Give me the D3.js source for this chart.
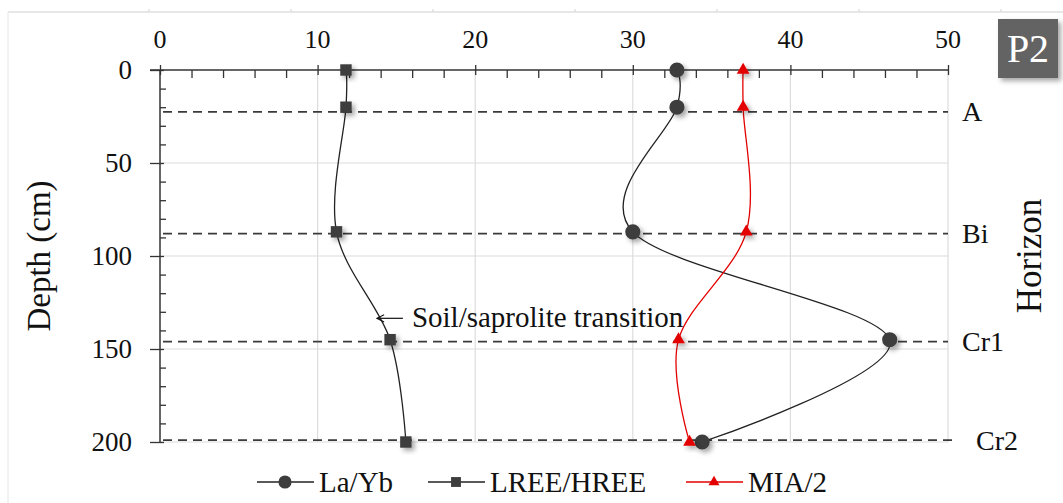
<!DOCTYPE html>
<html>
<head>
	<meta charset="UTF-8">
	<title>P2 depth profile</title>
	<style>
html, body {
	margin:0;padding:0;background:#fff;
}
text {
	font-family: "Liberation Serif", "Times New Roman", serif;
	fill: #111;
}
	</style>
	<script src="https://cdnjs.cloudflare.com/ajax/libs/d3/7.8.5/d3.min.js"></script>
</head>
<body>
<script>
// sample depths (cm) and the three profiles
const depths = [0, 20, 87, 145, 200];
const laYb = [32.8, 32.8, 30.0, 46.3, 34.4];
const lreeHree = [11.8, 11.8, 11.2, 14.6, 15.6];
const mia2 = [37.0, 37.0, 37.2, 32.9, 33.6];

const horizonNames = ['A', 'Bi', 'Cr1', 'Cr2'];
const horizonDepths = [22.5, 88, 146, 199];

const xTicks = [0, 10, 20, 30, 40, 50];
const depthTicks = [0, 50, 100, 150, 200];
const seriesNames = ['La/Yb', 'LREE/HREE', 'MIA/2'];

// annotation arrow tip (value, depth)
const transition = {label: 'Soil/saprolite transition', value: 13.7, depth: 133.5};

const W = 1063, H = 503;

const svg = d3.select(document.body).append('svg').attr('width', W).attr('height', H);

const defs = svg.append('defs');
defs.append('filter').attr('id', 'shadow')
	.attr('x', '-60%').attr('y', '-60%').attr('width', '220%').attr('height', '220%')
	.append('feDropShadow')
	.attr('dx', 3).attr('dy', 3).attr('stdDeviation', 2.5)
	.attr('flood-color', '#000').attr('flood-opacity', 0.35);
defs.append('marker').attr('id', 'openArrow')
	.attr('viewBox', '0 0 10 10').attr('refX', 9).attr('refY', 5)
	.attr('markerWidth', 9).attr('markerHeight', 9).attr('markerUnits', 'userSpaceOnUse')
	.attr('orient', 'auto')
	.append('path').attr('d', 'M1 1 9 5 1 9').attr('fill', 'none').attr('stroke', '#111').attr('stroke-width', 1.2);

// page frame (light ruler lines)
svg.append('line').attr('x1', 8).attr('x2', W).attr('y1', 12).attr('y2', 12).attr('stroke', '#cfcfcf').attr('stroke-width', 1.2);
svg.append('line').attr('x1', 8).attr('x2', 8).attr('y1', 12).attr('y2', H).attr('stroke', '#e6e6e6').attr('stroke-width', 1);
svg.selectAll('.ruler').data(d3.range(149, W, 142)).enter().append('line')
	.attr('x1', d => d).attr('x2', d => d).attr('y1', 9).attr('y2', 12).attr('stroke', '#d5d5d5');

const x = d3.scaleLinear().domain([0, 50]).range([160, 948]);
const y = d3.scaleLinear().domain([0, 200]).range([70, 442]);

// grid
const grid = svg.append('g');
grid.selectAll('.gx').data(xTicks.slice(1)).enter().append('line')
	.attr('x1', d => x(d)).attr('x2', d => x(d)).attr('y1', y(0)).attr('y2', y(200))
	.attr('stroke', '#dcdcdc').attr('stroke-width', 1.2);
grid.selectAll('.gy').data(depthTicks.slice(1)).enter().append('line')
	.attr('x1', x(0)).attr('x2', x(50)).attr('y1', d => y(d)).attr('y2', d => y(d))
	.attr('stroke', '#dcdcdc').attr('stroke-width', 1.2);

// horizon boundaries
const hz = svg.append('g');
horizonDepths.forEach((d, i) => {
	const last = i === horizonDepths.length - 1;
	const end = last ? x(50) + 7 : x(50);
	hz.append('line')
		.attr('x1', x(0) + 3).attr('x2', end).attr('y1', y(d)).attr('y2', y(d))
		.attr('stroke', '#3a3a3a').attr('stroke-width', 1.8).attr('stroke-dasharray', '9,6');
	hz.append('text')
		.attr('x', end + (last ? 21 : 14)).attr('y', y(d)).attr('dy', '0.34em')
		.attr('font-size', 28).text(horizonNames[i]);
});

// top axis
const topAxis = svg.append('g').attr('transform', `translate(0,${y(0)})`)
	.call(d3.axisTop(x).tickValues(d3.range(0, 51, 2)).tickSize(0).tickFormat(''));
topAxis.select('.domain').attr('stroke', '#333').attr('stroke-width', 1.5).attr('d', `M${x(0) - 10},0H${x(50)}`);
topAxis.selectAll('.tick line').attr('stroke', '#333').attr('stroke-width', 1.3)
	.attr('y1', d => d % 10 === 0 ? -5 : 0).attr('y2', d => d % 10 === 0 ? 5 : 8);
svg.append('g').selectAll('text').data(xTicks).enter().append('text')
	.attr('x', d => x(d)).attr('y', 48).attr('text-anchor', 'middle')
	.attr('font-size', 26).text(d => d);

// left axis
const leftAxis = svg.append('g').attr('transform', `translate(${x(0)},0)`)
	.call(d3.axisLeft(y).tickValues(d3.range(0, 201, 10)).tickSize(0).tickFormat(''));
leftAxis.select('.domain').attr('stroke', '#333').attr('stroke-width', 1.5).attr('d', `M0,${y(0)}V${y(200)}`);
leftAxis.selectAll('.tick line').attr('stroke', '#333').attr('stroke-width', 1.3)
	.attr('x1', d => d % 50 === 0 ? -10 : 0).attr('x2', d => d % 50 === 0 ? 4 : 6);
svg.append('g').selectAll('text').data(depthTicks).enter().append('text')
	.attr('x', 132).attr('y', d => y(d)).attr('dy', '0.35em').attr('text-anchor', 'end')
	.attr('font-size', 27).text(d => d);

svg.append('text').attr('transform', `translate(50,${(y(0) + y(200)) / 2}) rotate(-90)`)
	.attr('text-anchor', 'middle').attr('font-size', 33).text('Depth (cm)');
svg.append('text').attr('transform', `translate(1041,${(y(0) + y(200)) / 2}) rotate(-90)`)
	.attr('text-anchor', 'middle').attr('font-size', 35).text('Horizon');

// series
const line = d3.line().x(d => x(d[0])).y(d => y(d[1])).curve(d3.curveCardinal.tension(0));
const series = [
	{name: seriesNames[0], values: laYb, color: '#222', fill: '#3d3d3d', shape: d3.symbolCircle, size: 180},
	{name: seriesNames[1], values: lreeHree, color: '#222', fill: '#3d3d3d', shape: d3.symbolSquare, size: 130},
	{name: seriesNames[2], values: mia2, color: '#e30000', fill: '#e30000', shape: d3.symbolTriangle, size: 70}
];

series.forEach(s => {
	const pts = s.values.map((v, i) => [v, depths[i]]);
	const g = svg.append('g');
	g.append('path').attr('d', line(pts)).attr('fill', 'none')
		.attr('stroke', s.color).attr('stroke-width', 1.3);
	g.selectAll('path.m').data(pts).enter().append('path').attr('class', 'm')
		.attr('transform', d => `translate(${x(d[0])},${y(d[1])})`)
		.attr('d', d3.symbol(s.shape, s.size)).attr('fill', s.fill)
		.attr('filter', 'url(#shadow)');
});

// annotation
const ax = x(transition.value), ay = y(transition.depth);
svg.append('line').attr('x1', ax + 27).attr('x2', ax + 1).attr('y1', ay).attr('y2', ay)
	.attr('stroke', '#111').attr('stroke-width', 1.2).attr('marker-end', 'url(#openArrow)');
svg.append('text').attr('x', ax + 36).attr('y', ay).attr('dy', '0.3em')
	.attr('font-size', 29).text(transition.label);

// legend
const legendX = [257, 428, 686];
const legend = svg.append('g');
series.forEach((s, i) => {
	const lx = legendX[i], ly = 482;
	legend.append('line').attr('x1', lx).attr('x2', lx + 57).attr('y1', ly).attr('y2', ly)
		.attr('stroke', s.color).attr('stroke-width', 1.3);
	legend.append('path').attr('transform', `translate(${lx + 28},${ly})`)
		.attr('d', d3.symbol(s.shape, s.size * 0.75)).attr('fill', s.fill);
	legend.append('text').attr('x', lx + 62).attr('y', ly).attr('dy', '0.35em')
		.attr('font-size', 29).text(s.name);
});

// panel tag
const tag = svg.append('g');
tag.append('rect').attr('x', 998).attr('y', 19).attr('width', 60).attr('height', 59)
	.attr('fill', '#636363').attr('filter', 'url(#shadow)');
tag.append('text').attr('x', 1028).attr('y', 48).attr('dy', '0.35em').attr('text-anchor', 'middle')
	.attr('font-size', 40).style('fill', '#fff').text('P2');
</script>
</body>
</html>
